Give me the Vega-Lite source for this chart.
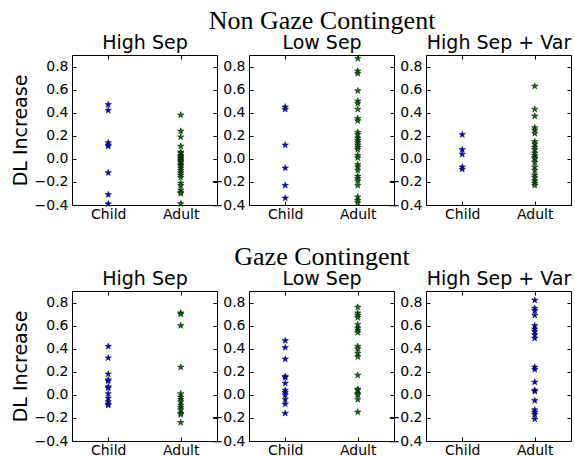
{
  "$schema": "https://vega.github.io/schema/vega-lite/v6.json",
  "background": "white",
  "autosize": {"type": "none"},
  "padding": {"left": 72, "top": 55, "right": 4, "bottom": 16},
  "width": 499,
  "height": 386,
  "config": {
    "view": {"stroke": null},
    "axis": {"domain": true, "domainColor": "black", "domainWidth": 1, "grid": false,
      "tickSize": -4, "tickColor": "black", "tickWidth": 1,
      "labelFont": "DejaVu Sans", "labelFontSize": 14, "labelColor": "black", "labelPadding": 8,
      "labelFlush": false, "labelOverlap": false,
      "titleFont": "DejaVu Sans", "titleFontSize": 19, "titleFontWeight": "normal", "titleColor": "black", "titlePadding": 4},
    "axisX": {"labelAngle": 0, "labelPadding": 6}
  },
  "data": {"values": [
    {"cond":"non-gaze","sep":"High Sep","grp":"Child","series":1,"value":0.47},
    {"cond":"non-gaze","sep":"High Sep","grp":"Child","series":1,"value":0.42},
    {"cond":"non-gaze","sep":"High Sep","grp":"Child","series":1,"value":0.14},
    {"cond":"non-gaze","sep":"High Sep","grp":"Child","series":1,"value":0.12},
    {"cond":"non-gaze","sep":"High Sep","grp":"Child","series":1,"value":0.11},
    {"cond":"non-gaze","sep":"High Sep","grp":"Child","series":1,"value":-0.12},
    {"cond":"non-gaze","sep":"High Sep","grp":"Child","series":1,"value":-0.31},
    {"cond":"non-gaze","sep":"High Sep","grp":"Child","series":1,"value":-0.39},
    {"cond":"non-gaze","sep":"High Sep","grp":"Adult","series":2,"value":0.38},
    {"cond":"non-gaze","sep":"High Sep","grp":"Adult","series":2,"value":0.24},
    {"cond":"non-gaze","sep":"High Sep","grp":"Adult","series":2,"value":0.19},
    {"cond":"non-gaze","sep":"High Sep","grp":"Adult","series":2,"value":0.11},
    {"cond":"non-gaze","sep":"High Sep","grp":"Adult","series":2,"value":0.06},
    {"cond":"non-gaze","sep":"High Sep","grp":"Adult","series":2,"value":0.05},
    {"cond":"non-gaze","sep":"High Sep","grp":"Adult","series":2,"value":0.03},
    {"cond":"non-gaze","sep":"High Sep","grp":"Adult","series":2,"value":0.02},
    {"cond":"non-gaze","sep":"High Sep","grp":"Adult","series":2,"value":0.01},
    {"cond":"non-gaze","sep":"High Sep","grp":"Adult","series":2,"value":0.0},
    {"cond":"non-gaze","sep":"High Sep","grp":"Adult","series":2,"value":-0.01},
    {"cond":"non-gaze","sep":"High Sep","grp":"Adult","series":2,"value":-0.02},
    {"cond":"non-gaze","sep":"High Sep","grp":"Adult","series":2,"value":-0.03},
    {"cond":"non-gaze","sep":"High Sep","grp":"Adult","series":2,"value":-0.05},
    {"cond":"non-gaze","sep":"High Sep","grp":"Adult","series":2,"value":-0.06},
    {"cond":"non-gaze","sep":"High Sep","grp":"Adult","series":2,"value":-0.08},
    {"cond":"non-gaze","sep":"High Sep","grp":"Adult","series":2,"value":-0.1},
    {"cond":"non-gaze","sep":"High Sep","grp":"Adult","series":2,"value":-0.12},
    {"cond":"non-gaze","sep":"High Sep","grp":"Adult","series":2,"value":-0.14},
    {"cond":"non-gaze","sep":"High Sep","grp":"Adult","series":2,"value":-0.16},
    {"cond":"non-gaze","sep":"High Sep","grp":"Adult","series":2,"value":-0.21},
    {"cond":"non-gaze","sep":"High Sep","grp":"Adult","series":2,"value":-0.23},
    {"cond":"non-gaze","sep":"High Sep","grp":"Adult","series":2,"value":-0.27},
    {"cond":"non-gaze","sep":"High Sep","grp":"Adult","series":2,"value":-0.29},
    {"cond":"non-gaze","sep":"High Sep","grp":"Adult","series":2,"value":-0.3},
    {"cond":"non-gaze","sep":"High Sep","grp":"Adult","series":2,"value":-0.39},
    {"cond":"non-gaze","sep":"Low Sep","grp":"Child","series":1,"value":0.45},
    {"cond":"non-gaze","sep":"Low Sep","grp":"Child","series":1,"value":0.43},
    {"cond":"non-gaze","sep":"Low Sep","grp":"Child","series":1,"value":0.12},
    {"cond":"non-gaze","sep":"Low Sep","grp":"Child","series":1,"value":-0.08},
    {"cond":"non-gaze","sep":"Low Sep","grp":"Child","series":1,"value":-0.23},
    {"cond":"non-gaze","sep":"Low Sep","grp":"Child","series":1,"value":-0.34},
    {"cond":"non-gaze","sep":"Low Sep","grp":"Adult","series":2,"value":0.87},
    {"cond":"non-gaze","sep":"Low Sep","grp":"Adult","series":2,"value":0.76},
    {"cond":"non-gaze","sep":"Low Sep","grp":"Adult","series":2,"value":0.74},
    {"cond":"non-gaze","sep":"Low Sep","grp":"Adult","series":2,"value":0.59},
    {"cond":"non-gaze","sep":"Low Sep","grp":"Adult","series":2,"value":0.5},
    {"cond":"non-gaze","sep":"Low Sep","grp":"Adult","series":2,"value":0.48},
    {"cond":"non-gaze","sep":"Low Sep","grp":"Adult","series":2,"value":0.43},
    {"cond":"non-gaze","sep":"Low Sep","grp":"Adult","series":2,"value":0.35},
    {"cond":"non-gaze","sep":"Low Sep","grp":"Adult","series":2,"value":0.33},
    {"cond":"non-gaze","sep":"Low Sep","grp":"Adult","series":2,"value":0.23},
    {"cond":"non-gaze","sep":"Low Sep","grp":"Adult","series":2,"value":0.21},
    {"cond":"non-gaze","sep":"Low Sep","grp":"Adult","series":2,"value":0.18},
    {"cond":"non-gaze","sep":"Low Sep","grp":"Adult","series":2,"value":0.16},
    {"cond":"non-gaze","sep":"Low Sep","grp":"Adult","series":2,"value":0.14},
    {"cond":"non-gaze","sep":"Low Sep","grp":"Adult","series":2,"value":0.12},
    {"cond":"non-gaze","sep":"Low Sep","grp":"Adult","series":2,"value":0.1},
    {"cond":"non-gaze","sep":"Low Sep","grp":"Adult","series":2,"value":0.08},
    {"cond":"non-gaze","sep":"Low Sep","grp":"Adult","series":2,"value":0.03},
    {"cond":"non-gaze","sep":"Low Sep","grp":"Adult","series":2,"value":0.01},
    {"cond":"non-gaze","sep":"Low Sep","grp":"Adult","series":2,"value":-0.05},
    {"cond":"non-gaze","sep":"Low Sep","grp":"Adult","series":2,"value":-0.07},
    {"cond":"non-gaze","sep":"Low Sep","grp":"Adult","series":2,"value":-0.1},
    {"cond":"non-gaze","sep":"Low Sep","grp":"Adult","series":2,"value":-0.15},
    {"cond":"non-gaze","sep":"Low Sep","grp":"Adult","series":2,"value":-0.17},
    {"cond":"non-gaze","sep":"Low Sep","grp":"Adult","series":2,"value":-0.19},
    {"cond":"non-gaze","sep":"Low Sep","grp":"Adult","series":2,"value":-0.23},
    {"cond":"non-gaze","sep":"Low Sep","grp":"Adult","series":2,"value":-0.33},
    {"cond":"non-gaze","sep":"Low Sep","grp":"Adult","series":2,"value":-0.36},
    {"cond":"non-gaze","sep":"Low Sep","grp":"Adult","series":2,"value":-0.38},
    {"cond":"non-gaze","sep":"High Sep + Var","grp":"Child","series":1,"value":0.21},
    {"cond":"non-gaze","sep":"High Sep + Var","grp":"Child","series":1,"value":0.08},
    {"cond":"non-gaze","sep":"High Sep + Var","grp":"Child","series":1,"value":0.04},
    {"cond":"non-gaze","sep":"High Sep + Var","grp":"Child","series":1,"value":-0.07},
    {"cond":"non-gaze","sep":"High Sep + Var","grp":"Child","series":1,"value":-0.09},
    {"cond":"non-gaze","sep":"High Sep + Var","grp":"Adult","series":2,"value":0.63},
    {"cond":"non-gaze","sep":"High Sep + Var","grp":"Adult","series":2,"value":0.43},
    {"cond":"non-gaze","sep":"High Sep + Var","grp":"Adult","series":2,"value":0.37},
    {"cond":"non-gaze","sep":"High Sep + Var","grp":"Adult","series":2,"value":0.27},
    {"cond":"non-gaze","sep":"High Sep + Var","grp":"Adult","series":2,"value":0.25},
    {"cond":"non-gaze","sep":"High Sep + Var","grp":"Adult","series":2,"value":0.22},
    {"cond":"non-gaze","sep":"High Sep + Var","grp":"Adult","series":2,"value":0.15},
    {"cond":"non-gaze","sep":"High Sep + Var","grp":"Adult","series":2,"value":0.13},
    {"cond":"non-gaze","sep":"High Sep + Var","grp":"Adult","series":2,"value":0.1},
    {"cond":"non-gaze","sep":"High Sep + Var","grp":"Adult","series":2,"value":0.08},
    {"cond":"non-gaze","sep":"High Sep + Var","grp":"Adult","series":2,"value":0.05},
    {"cond":"non-gaze","sep":"High Sep + Var","grp":"Adult","series":2,"value":0.03},
    {"cond":"non-gaze","sep":"High Sep + Var","grp":"Adult","series":2,"value":0.01},
    {"cond":"non-gaze","sep":"High Sep + Var","grp":"Adult","series":2,"value":0.0},
    {"cond":"non-gaze","sep":"High Sep + Var","grp":"Adult","series":2,"value":-0.03},
    {"cond":"non-gaze","sep":"High Sep + Var","grp":"Adult","series":2,"value":-0.07},
    {"cond":"non-gaze","sep":"High Sep + Var","grp":"Adult","series":2,"value":-0.1},
    {"cond":"non-gaze","sep":"High Sep + Var","grp":"Adult","series":2,"value":-0.14},
    {"cond":"non-gaze","sep":"High Sep + Var","grp":"Adult","series":2,"value":-0.16},
    {"cond":"non-gaze","sep":"High Sep + Var","grp":"Adult","series":2,"value":-0.19},
    {"cond":"non-gaze","sep":"High Sep + Var","grp":"Adult","series":2,"value":-0.21},
    {"cond":"non-gaze","sep":"High Sep + Var","grp":"Adult","series":2,"value":-0.23},
    {"cond":"gaze","sep":"High Sep","grp":"Child","series":1,"value":0.42},
    {"cond":"gaze","sep":"High Sep","grp":"Child","series":1,"value":0.32},
    {"cond":"gaze","sep":"High Sep","grp":"Child","series":1,"value":0.18},
    {"cond":"gaze","sep":"High Sep","grp":"Child","series":1,"value":0.13},
    {"cond":"gaze","sep":"High Sep","grp":"Child","series":1,"value":0.12},
    {"cond":"gaze","sep":"High Sep","grp":"Child","series":1,"value":0.07},
    {"cond":"gaze","sep":"High Sep","grp":"Child","series":1,"value":0.06},
    {"cond":"gaze","sep":"High Sep","grp":"Child","series":1,"value":0.01},
    {"cond":"gaze","sep":"High Sep","grp":"Child","series":1,"value":-0.03},
    {"cond":"gaze","sep":"High Sep","grp":"Child","series":1,"value":-0.06},
    {"cond":"gaze","sep":"High Sep","grp":"Child","series":1,"value":-0.08},
    {"cond":"gaze","sep":"High Sep","grp":"Child","series":1,"value":-0.09},
    {"cond":"gaze","sep":"High Sep","grp":"Adult","series":2,"value":0.71},
    {"cond":"gaze","sep":"High Sep","grp":"Adult","series":2,"value":0.7},
    {"cond":"gaze","sep":"High Sep","grp":"Adult","series":2,"value":0.6},
    {"cond":"gaze","sep":"High Sep","grp":"Adult","series":2,"value":0.24},
    {"cond":"gaze","sep":"High Sep","grp":"Adult","series":2,"value":0.01},
    {"cond":"gaze","sep":"High Sep","grp":"Adult","series":2,"value":-0.02},
    {"cond":"gaze","sep":"High Sep","grp":"Adult","series":2,"value":-0.04},
    {"cond":"gaze","sep":"High Sep","grp":"Adult","series":2,"value":-0.06},
    {"cond":"gaze","sep":"High Sep","grp":"Adult","series":2,"value":-0.09},
    {"cond":"gaze","sep":"High Sep","grp":"Adult","series":2,"value":-0.11},
    {"cond":"gaze","sep":"High Sep","grp":"Adult","series":2,"value":-0.13},
    {"cond":"gaze","sep":"High Sep","grp":"Adult","series":2,"value":-0.16},
    {"cond":"gaze","sep":"High Sep","grp":"Adult","series":2,"value":-0.17},
    {"cond":"gaze","sep":"High Sep","grp":"Adult","series":2,"value":-0.24},
    {"cond":"gaze","sep":"Low Sep","grp":"Child","series":1,"value":0.47},
    {"cond":"gaze","sep":"Low Sep","grp":"Child","series":1,"value":0.41},
    {"cond":"gaze","sep":"Low Sep","grp":"Child","series":1,"value":0.31},
    {"cond":"gaze","sep":"Low Sep","grp":"Child","series":1,"value":0.16},
    {"cond":"gaze","sep":"Low Sep","grp":"Child","series":1,"value":0.15},
    {"cond":"gaze","sep":"Low Sep","grp":"Child","series":1,"value":0.1},
    {"cond":"gaze","sep":"Low Sep","grp":"Child","series":1,"value":0.04},
    {"cond":"gaze","sep":"Low Sep","grp":"Child","series":1,"value":0.02},
    {"cond":"gaze","sep":"Low Sep","grp":"Child","series":1,"value":0.0},
    {"cond":"gaze","sep":"Low Sep","grp":"Child","series":1,"value":-0.04},
    {"cond":"gaze","sep":"Low Sep","grp":"Child","series":1,"value":-0.08},
    {"cond":"gaze","sep":"Low Sep","grp":"Child","series":1,"value":-0.16},
    {"cond":"gaze","sep":"Low Sep","grp":"Adult","series":2,"value":0.76},
    {"cond":"gaze","sep":"Low Sep","grp":"Adult","series":2,"value":0.71},
    {"cond":"gaze","sep":"Low Sep","grp":"Adult","series":2,"value":0.69},
    {"cond":"gaze","sep":"Low Sep","grp":"Adult","series":2,"value":0.67},
    {"cond":"gaze","sep":"Low Sep","grp":"Adult","series":2,"value":0.61},
    {"cond":"gaze","sep":"Low Sep","grp":"Adult","series":2,"value":0.58},
    {"cond":"gaze","sep":"Low Sep","grp":"Adult","series":2,"value":0.56},
    {"cond":"gaze","sep":"Low Sep","grp":"Adult","series":2,"value":0.54},
    {"cond":"gaze","sep":"Low Sep","grp":"Adult","series":2,"value":0.42},
    {"cond":"gaze","sep":"Low Sep","grp":"Adult","series":2,"value":0.4},
    {"cond":"gaze","sep":"Low Sep","grp":"Adult","series":2,"value":0.36},
    {"cond":"gaze","sep":"Low Sep","grp":"Adult","series":2,"value":0.33},
    {"cond":"gaze","sep":"Low Sep","grp":"Adult","series":2,"value":0.17},
    {"cond":"gaze","sep":"Low Sep","grp":"Adult","series":2,"value":0.05},
    {"cond":"gaze","sep":"Low Sep","grp":"Adult","series":2,"value":0.04},
    {"cond":"gaze","sep":"Low Sep","grp":"Adult","series":2,"value":0.01},
    {"cond":"gaze","sep":"Low Sep","grp":"Adult","series":2,"value":0.0},
    {"cond":"gaze","sep":"Low Sep","grp":"Adult","series":2,"value":-0.04},
    {"cond":"gaze","sep":"Low Sep","grp":"Adult","series":2,"value":-0.15},
    {"cond":"gaze","sep":"High Sep + Var","grp":"Adult","series":1,"value":0.82},
    {"cond":"gaze","sep":"High Sep + Var","grp":"Adult","series":1,"value":0.75},
    {"cond":"gaze","sep":"High Sep + Var","grp":"Adult","series":1,"value":0.73},
    {"cond":"gaze","sep":"High Sep + Var","grp":"Adult","series":1,"value":0.69},
    {"cond":"gaze","sep":"High Sep + Var","grp":"Adult","series":1,"value":0.6},
    {"cond":"gaze","sep":"High Sep + Var","grp":"Adult","series":1,"value":0.57},
    {"cond":"gaze","sep":"High Sep + Var","grp":"Adult","series":1,"value":0.55},
    {"cond":"gaze","sep":"High Sep + Var","grp":"Adult","series":1,"value":0.52},
    {"cond":"gaze","sep":"High Sep + Var","grp":"Adult","series":1,"value":0.49},
    {"cond":"gaze","sep":"High Sep + Var","grp":"Adult","series":1,"value":0.24},
    {"cond":"gaze","sep":"High Sep + Var","grp":"Adult","series":1,"value":0.22},
    {"cond":"gaze","sep":"High Sep + Var","grp":"Adult","series":1,"value":0.11},
    {"cond":"gaze","sep":"High Sep + Var","grp":"Adult","series":1,"value":0.04},
    {"cond":"gaze","sep":"High Sep + Var","grp":"Adult","series":1,"value":0.03},
    {"cond":"gaze","sep":"High Sep + Var","grp":"Adult","series":1,"value":-0.05},
    {"cond":"gaze","sep":"High Sep + Var","grp":"Adult","series":1,"value":-0.13},
    {"cond":"gaze","sep":"High Sep + Var","grp":"Adult","series":1,"value":-0.15},
    {"cond":"gaze","sep":"High Sep + Var","grp":"Adult","series":1,"value":-0.17},
    {"cond":"gaze","sep":"High Sep + Var","grp":"Adult","series":1,"value":-0.21}
  ]},
  "layer": [
    {"transform": [{"filter": "datum.cond == 'non-gaze' && datum.sep == 'High Sep'"}],
     "mark": {"type": "point", "shape": "M0,-1L0.225,-0.309L0.951,-0.309L0.363,0.118L0.588,0.809L0,0.382L-0.588,0.809L-0.363,0.118L-0.951,-0.309L-0.225,-0.309Z", "filled": true, "size": 45, "stroke": "black", "strokeWidth": 0.5, "opacity": 1},
     "encoding": {
       "x": {"field": "grp", "type": "nominal", "scale": {"type": "point", "domain": ["Child", "Adult"], "padding": 0.5, "range": [0, 145]}, "axis": {"title": null, "orient": "bottom", "offset": -236}},
       "y": {"field": "value", "type": "quantitative", "scale": {"domain": [-0.4, 0.9], "nice": false, "zero": false, "range": [150, 0]}, "axis": {"title": "DL Increase", "orient": "left", "offset": 0, "values": [-0.4, -0.2, 0, 0.2, 0.4, 0.6, 0.8], "format": ".1f"}},
       "fill": {"field": "series", "type": "nominal", "scale": {"domain": [1, 2], "range": ["#0000ff", "#008000"]}, "legend": null}
     }},
    {"mark": {"type": "point", "opacity": 0},
     "encoding": {
       "x": {"field": "grp", "type": "nominal", "scale": {"type": "point", "domain": ["Child", "Adult"], "padding": 0.5, "range": [0, 145]}, "axis": {"title": "High Sep", "orient": "top", "offset": 0, "labels": false, "titlePadding": 2}},
       "y": {"field": "value", "type": "quantitative", "scale": {"domain": [-0.4, 0.9], "nice": false, "zero": false, "range": [150, 0]}, "axis": {"title": null, "orient": "right", "offset": -354, "labels": false, "values": [-0.4, -0.2, 0, 0.2, 0.4, 0.6, 0.8]}}
     }},
    {"transform": [{"filter": "datum.cond == 'non-gaze' && datum.sep == 'Low Sep'"}],
     "mark": {"type": "point", "shape": "M0,-1L0.225,-0.309L0.951,-0.309L0.363,0.118L0.588,0.809L0,0.382L-0.588,0.809L-0.363,0.118L-0.951,-0.309L-0.225,-0.309Z", "filled": true, "size": 45, "stroke": "black", "strokeWidth": 0.5, "opacity": 1},
     "encoding": {
       "x": {"field": "grp", "type": "nominal", "scale": {"type": "point", "domain": ["Child", "Adult"], "padding": 0.5, "range": [177, 322]}, "axis": {"title": null, "orient": "bottom", "offset": -236}},
       "y": {"field": "value", "type": "quantitative", "scale": {"domain": [-0.4, 0.9], "nice": false, "zero": false, "range": [150, 0]}, "axis": {"title": null, "orient": "left", "offset": -177, "values": [-0.4, -0.2, 0, 0.2, 0.4, 0.6, 0.8], "format": ".1f"}},
       "fill": {"field": "series", "type": "nominal", "scale": {"domain": [1, 2], "range": ["#0000ff", "#008000"]}, "legend": null}
     }},
    {"mark": {"type": "point", "opacity": 0},
     "encoding": {
       "x": {"field": "grp", "type": "nominal", "scale": {"type": "point", "domain": ["Child", "Adult"], "padding": 0.5, "range": [177, 322]}, "axis": {"title": "Low Sep", "orient": "top", "offset": 0, "labels": false, "titlePadding": 2}},
       "y": {"field": "value", "type": "quantitative", "scale": {"domain": [-0.4, 0.9], "nice": false, "zero": false, "range": [150, 0]}, "axis": {"title": null, "orient": "right", "offset": -177, "labels": false, "values": [-0.4, -0.2, 0, 0.2, 0.4, 0.6, 0.8]}}
     }},
    {"mark": {"type": "point", "opacity": 0},
     "encoding": {
       "x": {"field": "grp", "type": "nominal", "scale": {"type": "point", "domain": ["Child", "Adult"], "padding": 0.5, "range": [177, 322]}, "axis": {"title": "Non Gaze Contingent", "orient": "top", "offset": 0, "labels": false, "ticks": false, "domain": false, "minExtent": 0, "titlePadding": 22, "titleFont": "Liberation Serif", "titleFontSize": 26}}
     }},
    {"transform": [{"filter": "datum.cond == 'non-gaze' && datum.sep == 'High Sep + Var'"}],
     "mark": {"type": "point", "shape": "M0,-1L0.225,-0.309L0.951,-0.309L0.363,0.118L0.588,0.809L0,0.382L-0.588,0.809L-0.363,0.118L-0.951,-0.309L-0.225,-0.309Z", "filled": true, "size": 45, "stroke": "black", "strokeWidth": 0.5, "opacity": 1},
     "encoding": {
       "x": {"field": "grp", "type": "nominal", "scale": {"type": "point", "domain": ["Child", "Adult"], "padding": 0.5, "range": [354, 499]}, "axis": {"title": null, "orient": "bottom", "offset": -236}},
       "y": {"field": "value", "type": "quantitative", "scale": {"domain": [-0.4, 0.9], "nice": false, "zero": false, "range": [150, 0]}, "axis": {"title": null, "orient": "left", "offset": -354, "values": [-0.4, -0.2, 0, 0.2, 0.4, 0.6, 0.8], "format": ".1f"}},
       "fill": {"field": "series", "type": "nominal", "scale": {"domain": [1, 2], "range": ["#0000ff", "#008000"]}, "legend": null}
     }},
    {"mark": {"type": "point", "opacity": 0},
     "encoding": {
       "x": {"field": "grp", "type": "nominal", "scale": {"type": "point", "domain": ["Child", "Adult"], "padding": 0.5, "range": [354, 499]}, "axis": {"title": "High Sep + Var", "orient": "top", "offset": 0, "labels": false, "titlePadding": 2}},
       "y": {"field": "value", "type": "quantitative", "scale": {"domain": [-0.4, 0.9], "nice": false, "zero": false, "range": [150, 0]}, "axis": {"title": null, "orient": "right", "offset": 0, "labels": false, "values": [-0.4, -0.2, 0, 0.2, 0.4, 0.6, 0.8]}}
     }},
    {"transform": [{"filter": "datum.cond == 'gaze' && datum.sep == 'High Sep'"}],
     "mark": {"type": "point", "shape": "M0,-1L0.225,-0.309L0.951,-0.309L0.363,0.118L0.588,0.809L0,0.382L-0.588,0.809L-0.363,0.118L-0.951,-0.309L-0.225,-0.309Z", "filled": true, "size": 45, "stroke": "black", "strokeWidth": 0.5, "opacity": 1},
     "encoding": {
       "x": {"field": "grp", "type": "nominal", "scale": {"type": "point", "domain": ["Child", "Adult"], "padding": 0.5, "range": [0, 145]}, "axis": {"title": null, "orient": "bottom", "offset": 0}},
       "y": {"field": "value", "type": "quantitative", "scale": {"domain": [-0.4, 0.9], "nice": false, "zero": false, "range": [386, 236]}, "axis": {"title": "DL Increase", "orient": "left", "offset": 0, "values": [-0.4, -0.2, 0, 0.2, 0.4, 0.6, 0.8], "format": ".1f"}},
       "fill": {"field": "series", "type": "nominal", "scale": {"domain": [1, 2], "range": ["#0000ff", "#008000"]}, "legend": null}
     }},
    {"mark": {"type": "point", "opacity": 0},
     "encoding": {
       "x": {"field": "grp", "type": "nominal", "scale": {"type": "point", "domain": ["Child", "Adult"], "padding": 0.5, "range": [0, 145]}, "axis": {"title": "High Sep", "orient": "top", "offset": -236, "labels": false, "titlePadding": 2}},
       "y": {"field": "value", "type": "quantitative", "scale": {"domain": [-0.4, 0.9], "nice": false, "zero": false, "range": [386, 236]}, "axis": {"title": null, "orient": "right", "offset": -354, "labels": false, "values": [-0.4, -0.2, 0, 0.2, 0.4, 0.6, 0.8]}}
     }},
    {"transform": [{"filter": "datum.cond == 'gaze' && datum.sep == 'Low Sep'"}],
     "mark": {"type": "point", "shape": "M0,-1L0.225,-0.309L0.951,-0.309L0.363,0.118L0.588,0.809L0,0.382L-0.588,0.809L-0.363,0.118L-0.951,-0.309L-0.225,-0.309Z", "filled": true, "size": 45, "stroke": "black", "strokeWidth": 0.5, "opacity": 1},
     "encoding": {
       "x": {"field": "grp", "type": "nominal", "scale": {"type": "point", "domain": ["Child", "Adult"], "padding": 0.5, "range": [177, 322]}, "axis": {"title": null, "orient": "bottom", "offset": 0}},
       "y": {"field": "value", "type": "quantitative", "scale": {"domain": [-0.4, 0.9], "nice": false, "zero": false, "range": [386, 236]}, "axis": {"title": null, "orient": "left", "offset": -177, "values": [-0.4, -0.2, 0, 0.2, 0.4, 0.6, 0.8], "format": ".1f"}},
       "fill": {"field": "series", "type": "nominal", "scale": {"domain": [1, 2], "range": ["#0000ff", "#008000"]}, "legend": null}
     }},
    {"mark": {"type": "point", "opacity": 0},
     "encoding": {
       "x": {"field": "grp", "type": "nominal", "scale": {"type": "point", "domain": ["Child", "Adult"], "padding": 0.5, "range": [177, 322]}, "axis": {"title": "Low Sep", "orient": "top", "offset": -236, "labels": false, "titlePadding": 2}},
       "y": {"field": "value", "type": "quantitative", "scale": {"domain": [-0.4, 0.9], "nice": false, "zero": false, "range": [386, 236]}, "axis": {"title": null, "orient": "right", "offset": -177, "labels": false, "values": [-0.4, -0.2, 0, 0.2, 0.4, 0.6, 0.8]}}
     }},
    {"mark": {"type": "point", "opacity": 0},
     "encoding": {
       "x": {"field": "grp", "type": "nominal", "scale": {"type": "point", "domain": ["Child", "Adult"], "padding": 0.5, "range": [177, 322]}, "axis": {"title": "Gaze Contingent", "orient": "top", "offset": -236, "labels": false, "ticks": false, "domain": false, "minExtent": 0, "titlePadding": 22, "titleFont": "Liberation Serif", "titleFontSize": 26}}
     }},
    {"transform": [{"filter": "datum.cond == 'gaze' && datum.sep == 'High Sep + Var'"}],
     "mark": {"type": "point", "shape": "M0,-1L0.225,-0.309L0.951,-0.309L0.363,0.118L0.588,0.809L0,0.382L-0.588,0.809L-0.363,0.118L-0.951,-0.309L-0.225,-0.309Z", "filled": true, "size": 45, "stroke": "black", "strokeWidth": 0.5, "opacity": 1},
     "encoding": {
       "x": {"field": "grp", "type": "nominal", "scale": {"type": "point", "domain": ["Child", "Adult"], "padding": 0.5, "range": [354, 499]}, "axis": {"title": null, "orient": "bottom", "offset": 0}},
       "y": {"field": "value", "type": "quantitative", "scale": {"domain": [-0.4, 0.9], "nice": false, "zero": false, "range": [386, 236]}, "axis": {"title": null, "orient": "left", "offset": -354, "values": [-0.4, -0.2, 0, 0.2, 0.4, 0.6, 0.8], "format": ".1f"}},
       "fill": {"field": "series", "type": "nominal", "scale": {"domain": [1, 2], "range": ["#0000ff", "#008000"]}, "legend": null}
     }},
    {"mark": {"type": "point", "opacity": 0},
     "encoding": {
       "x": {"field": "grp", "type": "nominal", "scale": {"type": "point", "domain": ["Child", "Adult"], "padding": 0.5, "range": [354, 499]}, "axis": {"title": "High Sep + Var", "orient": "top", "offset": -236, "labels": false, "titlePadding": 2}},
       "y": {"field": "value", "type": "quantitative", "scale": {"domain": [-0.4, 0.9], "nice": false, "zero": false, "range": [386, 236]}, "axis": {"title": null, "orient": "right", "offset": 0, "labels": false, "values": [-0.4, -0.2, 0, 0.2, 0.4, 0.6, 0.8]}}
     }}
  ],
  "resolve": {"scale": {"x": "independent", "y": "independent"}, "axis": {"x": "independent", "y": "independent"}}
}
